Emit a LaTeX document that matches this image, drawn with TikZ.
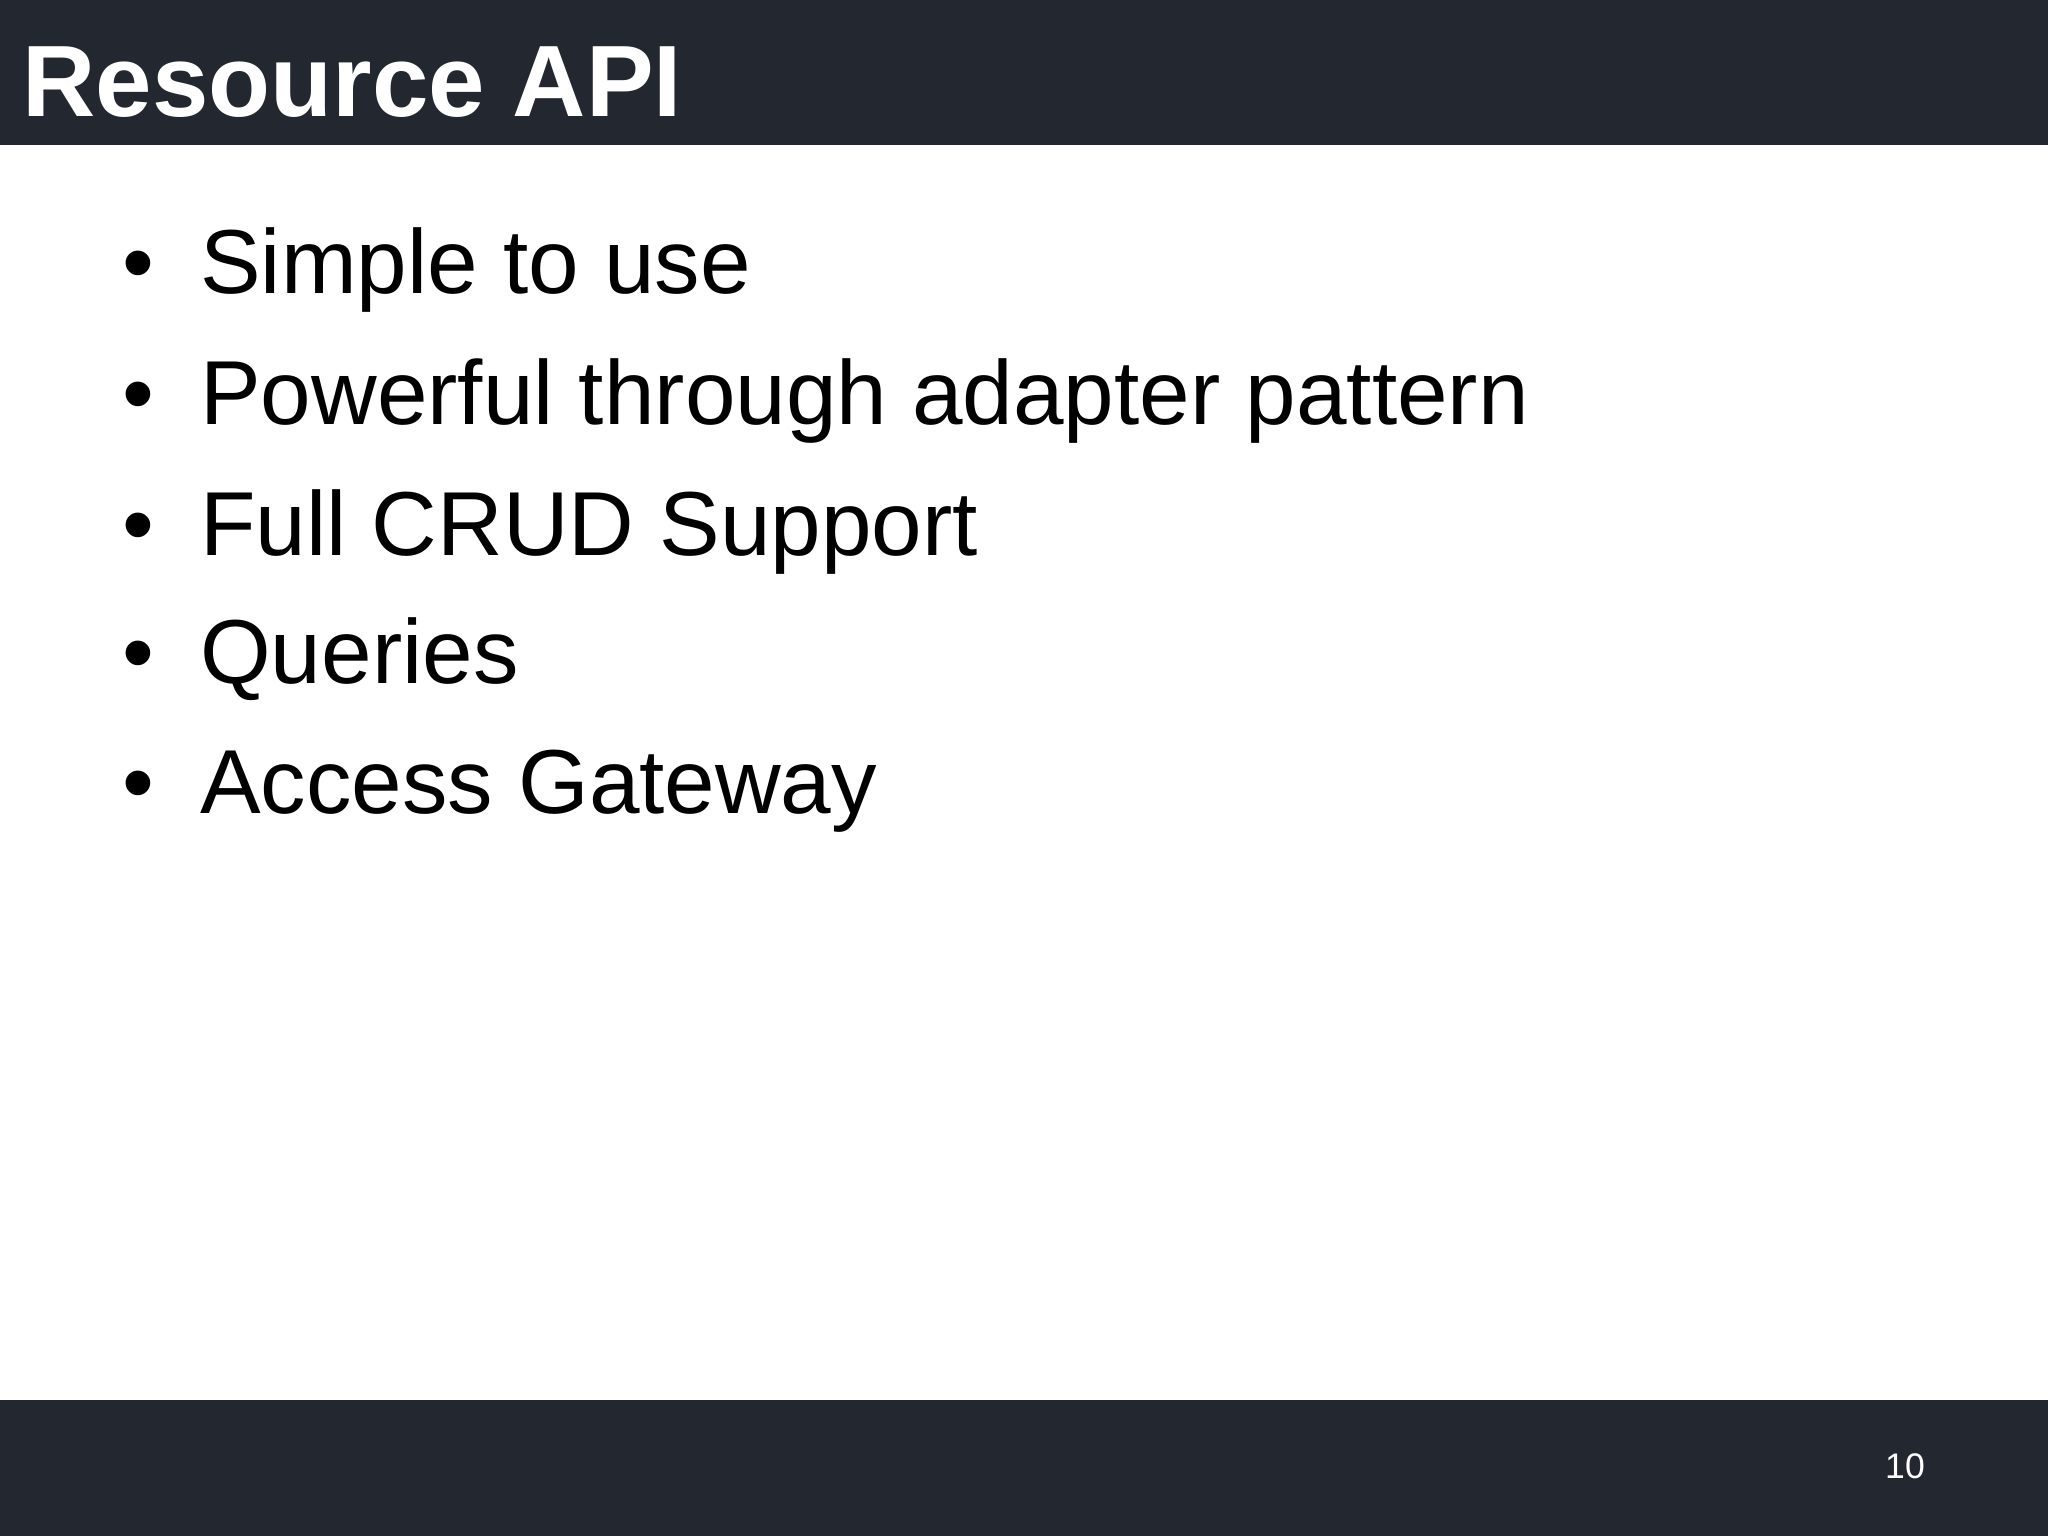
\documentclass[tikz,border=0pt]{standalone}
\usepackage{fontspec}
\setmainfont{Liberation Sans}
\definecolor{bar}{HTML}{232730}
\begin{document}
\begin{tikzpicture}[x=0.02cm,y=-0.02cm,
  item/.style={anchor=base west,inner sep=0pt,font=\fontsize{39.6}{48}\selectfont},
  dot/.style={anchor=base,inner sep=0pt,font=\fontsize{39.6}{48}\selectfont}]
\useasboundingbox (0,0) rectangle (1568,1176);
\fill[bar] (0,0) rectangle (1568,111);
\fill[bar] (0,1072) rectangle (1568,1176);
\node[anchor=base west,inner sep=0pt,text=white,font=\fontsize{44.2}{50}\selectfont\bfseries] (title) at (17,89) {Resource API};
\foreach \y/\t/\n in {225/Simple to use/a,325/Powerful through adapter pattern/b,425/Full CRUD Support/c,523/Queries/d,623/Access Gateway/e}{
  \node[dot] (d\n) at (106,\y) {•};
  \node[item] (t\n) at (153,\y) {\t};
}
\node[anchor=base east,inner sep=0pt,text=white,font=\fontsize{15.5}{19}\selectfont] (pg) at (1474,1132) {10};
\end{tikzpicture}
\end{document}
